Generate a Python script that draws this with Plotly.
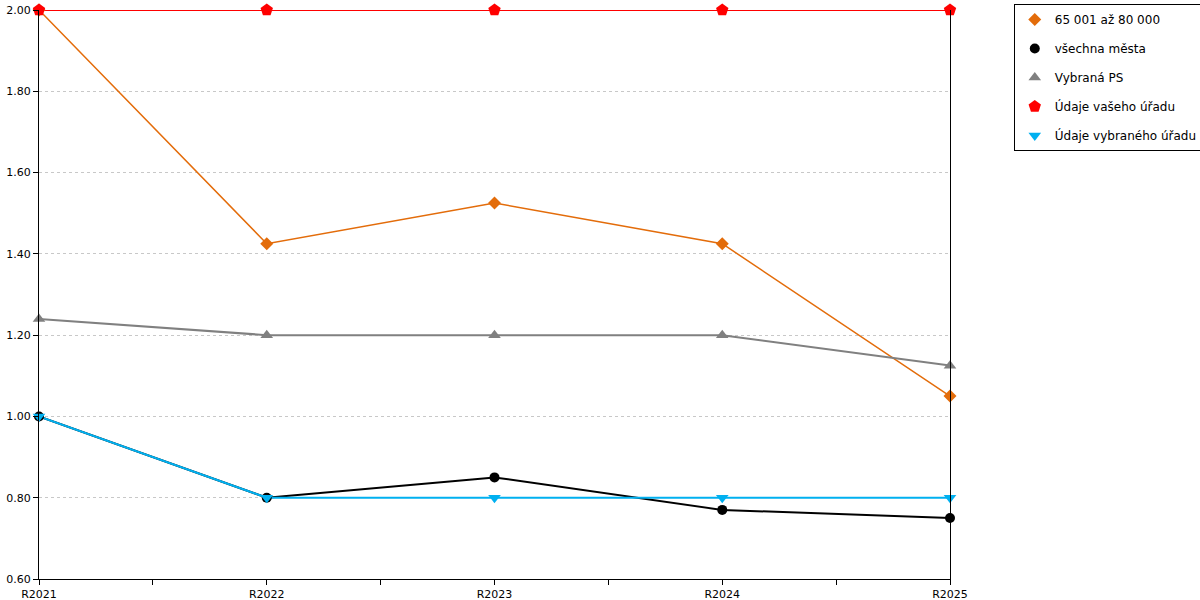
import plotly.graph_objects as go

categories = ["R2021", "R2022", "R2023", "R2024", "R2025"]
s_orange = [2.00, 1.425, 1.525, 1.425, 1.05]
s_black = [1.00, 0.80, 0.85, 0.77, 0.75]
s_gray = [1.24, 1.20, 1.20, 1.20, 1.125]
s_red = [2.00, 2.00, 2.00, 2.00, 2.00]
s_blue = [1.00, 0.80, 0.80, 0.80, 0.80]
names = ["65 001 až 80 000", "všechna města", "Vybraná PS", "Údaje vašeho úřadu", "Údaje vybraného úřadu"]
y_ticks = [0.6, 0.8, 1.0, 1.2, 1.4, 1.6, 1.8, 2.0]

xs = list(range(len(categories)))
series = [
    (names[0], s_orange, "#E36C0A", "diamond", 10, 1.5),
    (names[1], s_black, "#000000", "circle", 10, 2),
    (names[2], s_gray, "#808080", "triangle-up", 11, 2),
    (names[3], s_red, "#FF0000", "pentagon", 13, 2),
    (names[4], s_blue, "#00B0F0", "triangle-down", 11, 2),
]

fig = go.Figure()
for name, ys, col, sym, sz, lw in series:
    fig.add_trace(go.Scatter(x=xs, y=ys, mode="lines", line=dict(color=col, width=lw),
                             showlegend=False, hoverinfo="skip", cliponaxis=False))
for i, (name, ys, col, sym, sz, lw) in enumerate(series):
    fig.add_trace(go.Scatter(x=xs, y=ys, mode="markers", name=name, legendgroup=str(i),
                             marker=dict(color=col, symbol=sym, size=sz, line=dict(width=0)),
                             cliponaxis=False))

tickvals = [i * 0.5 for i in range(2 * len(categories) - 1)]
ticktext = [categories[int(v)] if v == int(v) else "" for v in tickvals]

fig.update_layout(
    width=1200, height=600,
    margin=dict(l=39, r=250, t=10, b=21, autoexpand=False),
    paper_bgcolor="white", plot_bgcolor="white",
    font=dict(family="DejaVu Sans", size=12, color="#000000"),
    xaxis=dict(range=[0, 4], tickvals=tickvals, ticktext=ticktext, showgrid=False,
               showline=True, linecolor="black", linewidth=1, ticks="outside",
               ticklen=5, tickcolor="black", zeroline=False, tickfont=dict(size=11),
               automargin=False),
    yaxis=dict(range=[0.6, 2.0], tickvals=y_ticks, tickformat=".2f", showgrid=True,
               gridcolor="#c8c8c8", griddash="dot", gridwidth=1,
               showline=True, mirror=True, linecolor="black", linewidth=1,
               ticks="outside", ticklen=5, tickcolor="black", zeroline=False,
               tickfont=dict(size=11), automargin=False),
    legend=dict(x=1.07, y=1.0105, xanchor="left", yanchor="top",
                bordercolor="black", borderwidth=1, bgcolor="white",
                tracegroupgap=10, traceorder="grouped", font=dict(size=12)),
)
fig.write_html("out.html", config={"displayModeBar": False},
               post_script="document.body.style.margin='0px';")
